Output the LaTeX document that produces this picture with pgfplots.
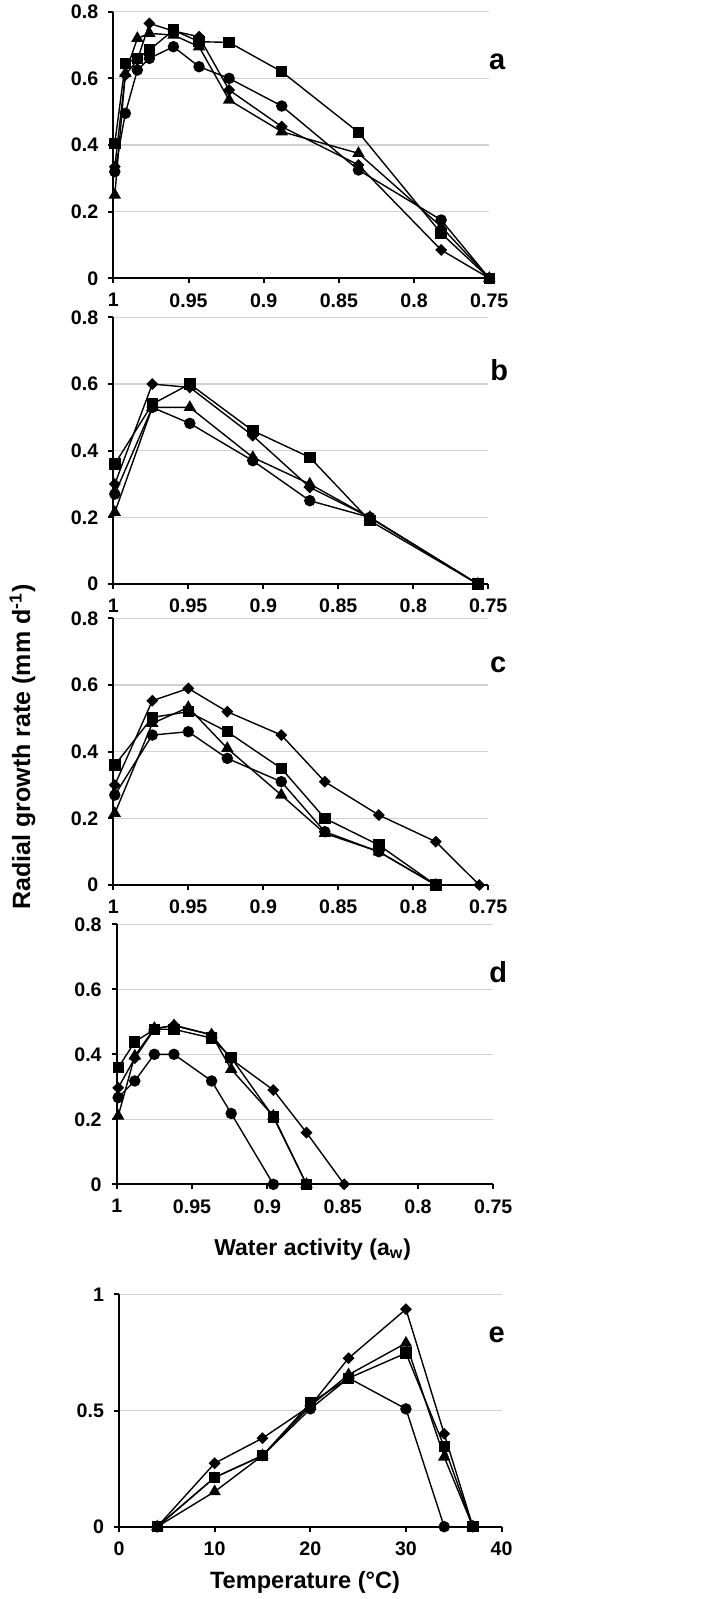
\documentclass[border=0pt]{standalone}
\usepackage{pgfplots}
\pgfplotsset{compat=1.18}
\usepackage{pgfplotstable}
\usepackage{fontspec}
\setmainfont{Liberation Sans}

\pgfplotstableread{
aw    dia   sq    tri   cir
0.999 0.335 0.405 0.25  0.32
0.992 0.61  0.645 0.615 0.495
0.984 0.655 0.66  0.72  0.625
0.976 0.765 0.685 0.735 0.66
0.960 0.742 0.745 0.73  0.695
0.943 0.725 0.71  0.695 0.635
0.923 0.565 0.708 0.535 0.60
0.888 0.455 0.62  0.44  0.517
0.837 0.34  0.438 0.375 0.325
0.782 0.085 0.135 0.155 0.175
0.750 0     0     0     0
}\tabA

\pgfplotstableread{
aw    dia   sq    tri   cir
0.999 0.30  0.36  0.215 0.27
0.974 0.60  0.54  0.53  0.53
0.949 0.59  0.60  0.53  0.482
0.907 0.445 0.46  0.38  0.37
0.869 0.29  0.38  0.30  0.25
0.829 0.20  0.19  0.20  0.20
0.757 0     0     0     0
}\tabB

\pgfplotstableread{
aw    dia   sq    tri   cir
0.999 0.30  0.36  0.215 0.27
0.974 0.553 0.503 0.485 0.45
0.950 0.59  0.52  0.533 0.46
0.924 0.52  0.46  0.41  0.38
0.888 0.45  0.35  0.27  0.31
0.859 0.31  0.20  0.155 0.16
0.823 0.21  0.12  0.10  0.10
0.785 0.13  0     0     0
0.756 0     nan   nan   nan
}\tabC

\pgfplotstableread{
aw    dia   sq    tri   cir
0.999 0.297 0.359 0.21  0.267
0.988 0.388 0.438 0.395 0.318
0.975 0.477 0.477 0.48  0.40
0.962 0.49  0.477 0.488 0.40
0.937 0.46  0.45  0.46  0.318
0.924 0.385 0.39  0.354 0.218
0.896 0.29  0.207 0.21  0
0.874 0.159 0     0     nan
0.849 0     nan   nan   nan
}\tabD

\pgfplotstableread{
T   dia   sq    tri   cir
4   0     0     0     0
10  0.273 0.212 0.151 0.212
15  0.381 0.306 0.306 0.306
20  0.52  0.532 0.52  0.507
24  0.725 0.639 0.654 0.64
30  0.936 0.747 0.79  0.507
34  0.40  0.345 0.30  0
37  0     0     0     nan
}\tabE

\pgfplotsset{
  panel/.style={
    scale only axis, clip=false,
    axis x line=bottom, axis y line=left,
    axis line style={-, line width=1pt, black},
    tick align=outside, major tick length=2.5pt,
    every tick/.style={black, line width=1pt},
    ymajorgrids, major grid style={black!18, line width=0.6pt},
    ticklabel style={font=\bfseries\fontsize{9.8}{11}\selectfont},
    xticklabel style={yshift=-1.5pt},
    yticklabel style={xshift=-1.5pt},
    /pgf/number format/assume math mode=true,
    unbounded coords=discard,
    anchor=south west,
  },
  awax/.style={xmin=0, xmax=0.25, xtick={0,0.05,0.1,0.15,0.2,0.25},
    xticklabels={1,0.95,0.9,0.85,0.8,0.75},
    ymin=0, ymax=0.8, ytick={0,0.2,0.4,0.6,0.8}},
  sdia/.style={black, line width=0.7pt, mark=square*, mark size=1.75pt, mark options={solid, rotate=45}},
  ssq/.style={black, line width=0.7pt, mark=square*, mark size=2.5pt, mark options={solid}},
  stri/.style={black, line width=0.7pt, mark=triangle*, mark size=2.9pt, mark options={solid}},
  scir/.style={black, line width=0.7pt, mark=*, mark size=2.5pt, mark options={solid}},
}

\newcommand{\awplots}[1]{%
  \addplot[scir] table[x expr=1-\thisrow{aw}, y=cir]{#1};
  \addplot[stri] table[x expr=1-\thisrow{aw}, y=tri]{#1};
  \addplot[ssq] table[x expr=1-\thisrow{aw}, y=sq]{#1};
  \addplot[sdia] table[x expr=1-\thisrow{aw}, y=dia]{#1};
}

\begin{document}
\begin{tikzpicture}
\useasboundingbox (0pt,0pt) rectangle (353.5pt,-799.5pt);

\begin{axis}[panel, awax, at={(56.65pt,-139.15pt)}, width=188pt, height=133.3pt]
\awplots{\tabA}
\end{axis}

\begin{axis}[panel, awax, at={(56.65pt,-292pt)}, width=187.5pt, height=133.3pt]
\awplots{\tabB}
\end{axis}

\begin{axis}[panel, awax, at={(56.65pt,-442.5pt)}, width=187.5pt, height=133.3pt]
\awplots{\tabC}
\end{axis}

\begin{axis}[panel, awax, at={(58.35pt,-592.15pt)}, width=188.3pt, height=130pt]
\awplots{\tabD}
\end{axis}

\begin{axis}[panel, at={(59.5pt,-763.35pt)}, width=191.3pt, height=116.2pt,
  xmin=0, xmax=40, xtick={0,10,20,30,40}, ymin=0, ymax=1, ytick={0,0.5,1}]
  \addplot[scir] table[x=T, y=cir]{\tabE};
  \addplot[stri] table[x=T, y=tri]{\tabE};
  \addplot[ssq] table[x=T, y=sq]{\tabE};
  \addplot[sdia] table[x=T, y=dia]{\tabE};
\end{axis}

\begin{scope}[every node/.style={inner sep=0pt, font=\bfseries\fontsize{14.5}{16}\selectfont}]
\node at (248.65pt,-30.85pt) {a};
\node at (249.65pt,-185pt) {b};
\node at (249.15pt,-332.5pt) {c};
\node at (249.15pt,-485.85pt) {d};
\node at (248.35pt,-667.5pt) {e};
\end{scope}

\node[rotate=90, inner sep=0pt, font=\bfseries\fontsize{12.5}{14}\selectfont] at (11.25pt,-373.5pt) {Radial growth rate (mm d\textsuperscript{-1})};
\node[anchor=base, inner sep=0pt, font=\bfseries\fontsize{11.5}{13}\selectfont] at (156.35pt,-627.5pt) {Water activity (a\textsubscript{w})};
\node[anchor=base, inner sep=0pt, font=\bfseries\fontsize{11.8}{13}\selectfont] at (152.5pt,-794.2pt) {Temperature (°C)};
\end{tikzpicture}
\end{document}
